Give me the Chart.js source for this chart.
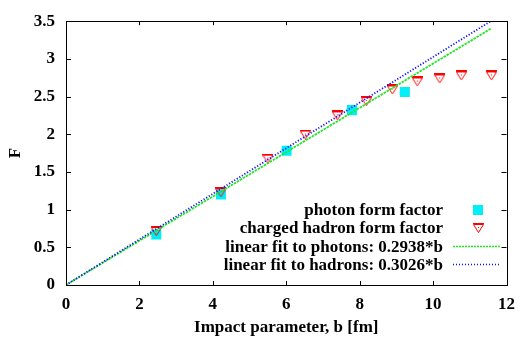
<!DOCTYPE html>
<html>
<head>
<meta charset="utf-8">
<script src="https://cdn.jsdelivr.net/npm/chart.js@4.4.0/dist/chart.umd.min.js"></script>
<style>
  html, body { margin: 0; padding: 0; background: #fff; }
  #wrap { width: 524px; height: 338px; }
</style>
</head>
<body>
<div id="wrap"><canvas id="ffChart" width="524" height="338"></canvas></div>
<script>
// values
var photonB = [2.46, 4.22, 6.01, 7.79, 9.23];
var photonF = [0.67, 1.20, 1.78, 2.32, 2.56];
var hadronB = [2.46, 4.22, 5.50, 6.52, 7.39, 8.18, 8.89, 9.57, 10.18, 10.77, 11.59];
var hadronF = [0.715, 1.23, 1.676, 1.996, 2.25, 2.44, 2.594, 2.70, 2.74, 2.78, 2.78];
var fitB = [0, 11.57];
var fitPhotonF = [0, 3.40];
var fitHadronF = [0, 3.50];
var xTicks = [0, 2, 4, 6, 8, 10, 12];
var yTicks = [0, 0.5, 1, 1.5, 2, 2.5, 3, 3.5];
var legendLabels = ['photon form factor', 'charged hadron form factor',
    'linear fit to photons: 0.2938*b', 'linear fit to hadrons: 0.3026*b'];

var FAMILY = '"Liberation Serif", "DejaVu Serif", serif';
var FSIZE = 17;
var CYAN = '#00eef8';
var RED = '#ff0000';
var GREEN = '#22e622';
var BLUE = '#1010ff';

function pairs(xs, ys) {
    var out = [];
    for (var i = 0; i < xs.length; i++) {
        out.push({x: xs[i], y: ys[i]});
    }
    return out;
}

// gnuplot style nabla: open triangle, doubled top bar, dot inside
function makeNabla() {
    var c = document.createElement('canvas');
    c.width = 11; c.height = 10;
    var g = c.getContext('2d');
    g.strokeStyle = RED;
    g.lineWidth = 1;
    g.beginPath();
    g.moveTo(0.5, 1.5); g.lineTo(10.5, 1.5); g.lineTo(5.5, 9.5); g.closePath();
    g.moveTo(0, 0.5); g.lineTo(11, 0.5);
    g.stroke();
    g.fillStyle = RED;
    g.fillRect(5, 4, 1, 1);
    return c;
}
var nabla = makeNabla();

// box + inward ticks on all four sides
var frameTicks = {
    id: 'frameTicks',
    afterDatasetsDraw: function(chart) {
        var ctx = chart.ctx;
        var a = chart.chartArea;
        var xs = chart.scales.x, ys = chart.scales.y;
        ctx.save();
        ctx.strokeStyle = '#000';
        ctx.lineWidth = 1;
        ctx.beginPath();
        xTicks.forEach(function(v) {
            var px = Math.round(xs.getPixelForValue(v)) + 0.5;
            ctx.moveTo(px, a.bottom); ctx.lineTo(px, a.bottom - 4);
            ctx.moveTo(px, a.top); ctx.lineTo(px, a.top + 4);
        });
        yTicks.forEach(function(v) {
            var py = Math.round(ys.getPixelForValue(v)) + 0.5;
            ctx.moveTo(a.left, py); ctx.lineTo(a.left + 5, py);
            ctx.moveTo(a.right, py); ctx.lineTo(a.right - 5, py);
        });
        ctx.stroke();
        ctx.strokeRect(Math.round(a.left) + 0.5, Math.round(a.top) + 0.5,
            Math.round(a.right - a.left), Math.round(a.bottom - a.top));
        ctx.restore();
    }
};

// key in the lower right, text right aligned with sample on the right
var keyBox = {
    id: 'keyBox',
    afterDraw: function(chart) {
        var ctx = chart.ctx;
        var textX = 443, sampleX = 478, rowY = [210, 228, 246.5, 264.5];
        ctx.save();
        ctx.font = 'bold ' + FSIZE + 'px ' + FAMILY;
        ctx.fillStyle = '#000';
        ctx.textAlign = 'right';
        ctx.textBaseline = 'middle';
        legendLabels.forEach(function(t, i) {
            ctx.fillText(t, textX, rowY[i] + 1);
        });
        ctx.fillStyle = CYAN;
        ctx.fillRect(sampleX - 5, rowY[0] - 5, 10, 10);
        ctx.drawImage(nabla, sampleX - 5, rowY[1] - 5);
        ctx.lineWidth = 1.5;
        ctx.strokeStyle = GREEN;
        ctx.setLineDash([2, 1]);
        ctx.beginPath();
        ctx.moveTo(453, rowY[2]); ctx.lineTo(501, rowY[2]);
        ctx.stroke();
        ctx.strokeStyle = BLUE;
        ctx.setLineDash([1, 2]);
        ctx.beginPath();
        ctx.moveTo(453, rowY[3]); ctx.lineTo(501, rowY[3]);
        ctx.stroke();
        ctx.restore();
    }
};

function tickFont() {
    return { family: FAMILY, size: FSIZE, weight: 'bold' };
}

var ffCanvas = document.getElementById('ffChart').getContext('2d');
var ffChart = new Chart(ffCanvas, {
    type: 'scatter',
    data: {
        datasets: [
            {
                label: legendLabels[0],
                data: pairs(photonB, photonF),
                pointStyle: 'rect',
                pointRadius: 7.1,
                backgroundColor: CYAN,
                borderColor: CYAN,
                borderWidth: 0,
                order: 4
            },
            {
                label: legendLabels[1],
                data: pairs(hadronB, hadronF),
                pointStyle: nabla,
                pointRadius: 6,
                backgroundColor: RED,
                borderColor: RED,
                order: 3
            },
            {
                label: legendLabels[2],
                data: pairs(fitB, fitPhotonF),
                showLine: true,
                pointRadius: 0,
                borderColor: GREEN,
                borderWidth: 1.8,
                borderDash: [2.5, 1],
                order: 2
            },
            {
                label: legendLabels[3],
                data: pairs(fitB, fitHadronF),
                showLine: true,
                pointRadius: 0,
                borderColor: BLUE,
                borderWidth: 1.8,
                borderDash: [1.2, 1.8],
                order: 1
            }
        ]
    },
    options: {
        responsive: false,
        animation: false,
        devicePixelRatio: 1,
        layout: { padding: { left: 0, right: 13, top: 12, bottom: 0 } },
        plugins: { legend: { display: false }, tooltip: { enabled: false } },
        scales: {
            x: {
                type: 'linear',
                min: 0, max: 12,
                afterFit: function(s) { s.height = 53; },
                afterBuildTicks: function(s) { s.ticks = xTicks.map(function(v) { return {value: v}; }); },
                grid: { display: false, drawTicks: false },
                border: { display: false },
                ticks: { color: '#000', font: tickFont(), padding: 9, maxRotation: 0,
                    callback: function(v) { return String(v); } },
                title: { display: true, text: 'Impact parameter, b [fm]', color: '#000',
                    font: tickFont(), padding: { top: 0, bottom: 0 } }
            },
            y: {
                type: 'linear',
                min: 0, max: 3.5,
                afterFit: function(s) { s.width = 66; },
                afterBuildTicks: function(s) { s.ticks = yTicks.map(function(v) { return {value: v}; }); },
                grid: { display: false, drawTicks: false },
                border: { display: false },
                ticks: { color: '#000', font: tickFont(), padding: 11,
                    callback: function(v) { return String(v); } },
                title: { display: true, text: 'F', color: '#000',
                    font: tickFont(), padding: { top: 5, bottom: 0 } }
            }
        }
    },
    plugins: [frameTicks, keyBox]
});
</script>
</body>
</html>
